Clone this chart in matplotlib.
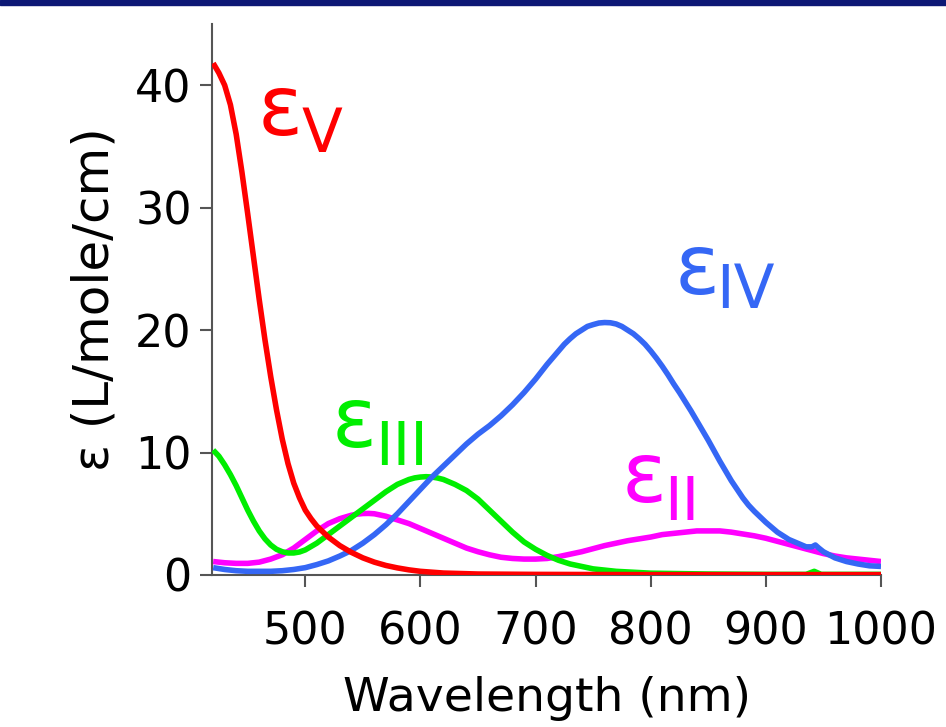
import matplotlib
matplotlib.use("Agg")
import matplotlib.pyplot as plt
from matplotlib.patches import Rectangle

plt.rcParams['font.family'] = ['DejaVu Sans']

# ---- data ----
wl_red = [420, 425, 430, 435, 440, 445, 450, 455, 460, 465, 470, 475, 480, 485, 490, 495,
          500, 505, 510, 520, 530, 540, 550, 560, 570, 580, 590, 600, 620, 650, 700, 800, 1000]
eps_V = [41.8, 41.0, 40.0, 38.4, 36.0, 32.9, 29.5, 26.0, 22.5, 19.2, 16.2, 13.5, 11.1, 9.1, 7.5, 6.3,
         5.3, 4.6, 4.0, 3.1, 2.4, 1.85, 1.4, 1.05, 0.78, 0.58, 0.42, 0.3, 0.16, 0.08, 0.05, 0.03, 0.03]

wl_green = [420, 425, 430, 435, 440, 445, 450, 455, 460, 465, 470, 475, 480, 485, 490, 495,
            500, 510, 520, 530, 540, 550, 560, 570, 580, 590, 595, 600, 605, 610, 615, 620,
            630, 640, 650, 660, 670, 680, 690, 700, 710, 720, 730, 740, 750, 770, 800, 850,
            900, 935, 942, 948, 1000]
eps_III = [10.2, 9.7, 9.0, 8.2, 7.3, 6.3, 5.3, 4.4, 3.6, 2.95, 2.45, 2.1, 1.9, 1.8, 1.8, 1.88,
           2.05, 2.6, 3.3, 4.0, 4.7, 5.4, 6.1, 6.8, 7.4, 7.8, 7.93, 8.0, 8.03, 8.0, 7.92, 7.8,
           7.4, 6.9, 6.2, 5.3, 4.4, 3.5, 2.7, 2.1, 1.6, 1.2, 0.9, 0.7, 0.5, 0.3, 0.15, 0.08,
           0.05, 0.05, 0.3, 0.05, 0.05]

wl_mag = [420, 430, 440, 450, 460, 470, 480, 490, 500, 510, 520, 530, 540, 545, 550, 555,
          560, 570, 580, 590, 600, 610, 620, 630, 640, 650, 660, 670, 680, 690, 700, 710,
          720, 730, 740, 750, 760, 770, 780, 790, 800, 810, 820, 830, 840, 850, 860, 870,
          880, 890, 900, 910, 920, 930, 940, 950, 960, 970, 980, 990, 1000]
eps_II = [1.1, 1.0, 0.95, 0.95, 1.05, 1.3, 1.65, 2.2, 2.9, 3.6, 4.2, 4.6, 4.88, 4.97, 5.02, 5.03,
          5.0, 4.8, 4.5, 4.2, 3.8, 3.4, 3.0, 2.6, 2.2, 1.9, 1.65, 1.45, 1.35, 1.3, 1.3, 1.35,
          1.5, 1.7, 1.9, 2.15, 2.4, 2.6, 2.8, 2.95, 3.1, 3.3, 3.4, 3.5, 3.6, 3.6, 3.6, 3.5,
          3.35, 3.2, 3.0, 2.75, 2.5, 2.25, 2.0, 1.75, 1.55, 1.4, 1.3, 1.2, 1.1]

wl_blue = [420, 430, 440, 450, 460, 470, 480, 490, 500, 510, 520, 530, 540, 550, 560, 570,
           580, 590, 600, 610, 620, 630, 640, 650, 660, 670, 680, 690, 700, 710, 720, 725,
           730, 735, 740, 745, 750, 755, 760, 765, 770, 775, 780, 785, 790, 795, 800, 805,
           810, 815, 820, 825, 830, 835, 840, 845, 850, 855, 860, 865, 870, 875, 880, 885,
           890, 895, 900, 910, 920, 930, 935, 940, 943, 946, 950, 960, 970, 980, 990, 1000]
eps_IV = [0.6, 0.45, 0.35, 0.3, 0.3, 0.3, 0.35, 0.45, 0.6, 0.85, 1.15, 1.55, 2.0, 2.6, 3.3, 4.1,
          5.0, 6.0, 7.0, 8.0, 8.9, 9.8, 10.7, 11.5, 12.2, 13.0, 13.9, 14.9, 16.0, 17.2, 18.3, 18.85,
          19.3, 19.7, 20.0, 20.3, 20.45, 20.58, 20.62, 20.6, 20.5, 20.3, 20.0, 19.7, 19.3, 18.85, 18.3, 17.7,
          17.05, 16.35, 15.6, 14.9, 14.15, 13.4, 12.6, 11.8, 11.0, 10.15, 9.3, 8.5, 7.7, 7.0, 6.3, 5.7,
          5.2, 4.75, 4.3, 3.5, 2.9, 2.5, 2.3, 2.3, 2.45, 2.2, 1.9, 1.4, 1.1, 0.9, 0.75, 0.7]

x_ticks = [500, 600, 700, 800, 900, 1000]
y_ticks = [0, 10, 20, 30, 40]

c_red = '#ff0000'
c_green = '#00ee00'
c_mag = '#ff00ff'
c_blue = '#3567f5'

fig = plt.figure(figsize=(9.46, 7.27), dpi=100)
fig.patches.append(Rectangle((0, 1 - 5 / 727), 1, 5 / 727, transform=fig.transFigure,
                             color='#0d1875', zorder=0))
ax = fig.add_axes([212 / 946, 1 - 575 / 727, (881 - 212) / 946, (575 - 24) / 727])

lw = 4.0
kw = dict(lw=lw, solid_capstyle='butt', solid_joinstyle='round')
ax.plot(wl_mag, eps_II, color=c_mag, zorder=2, **kw)
ax.plot(wl_green, eps_III, color=c_green, zorder=3, **kw)
ax.plot(wl_blue, eps_IV, color=c_blue, zorder=4, **kw)
ax.plot(wl_red, eps_V, color=c_red, zorder=5, **kw)

ax.set_xlim(419, 1000)
ax.set_ylim(0, 45)
ax.set_xticks(x_ticks)
ax.set_yticks(y_ticks)
for s in ['top', 'right']:
    ax.spines[s].set_visible(False)
for s in ['left', 'bottom']:
    ax.spines[s].set_color('#555555')
    ax.spines[s].set_linewidth(1.5)
ax.tick_params(axis='both', direction='out', length=8.5, width=1.5, color='#555555',
               labelsize=32)
ax.tick_params(axis='x', pad=17)
ax.tick_params(axis='y', pad=6)

ax.set_xlabel('Wavelength (nm)', fontsize=34, labelpad=16)
ax.set_ylabel('ε (L/mole/cm)', fontsize=36, labelpad=12)

big = 60
sub = 43
labels = [
    (458.6, 35.97, 496.5, 34.54, 'V', c_red),
    (820.9, 22.92, 856.5, 21.78, 'IV', c_blue),
    (522.9, 10.44, 561.0, 8.97, 'III', c_green),
    (774.9, 5.95, 812.0, 4.49, 'II', c_mag),
]
for ex, ey, sx, sy, s, c in labels:
    ax.text(ex, ey, 'ε', fontsize=big, color=c, ha='left', va='baseline', zorder=6)
    ax.text(sx, sy, s, fontsize=sub, color=c, ha='left', va='baseline', zorder=6)

fig.savefig('out.png', dpi=100)
